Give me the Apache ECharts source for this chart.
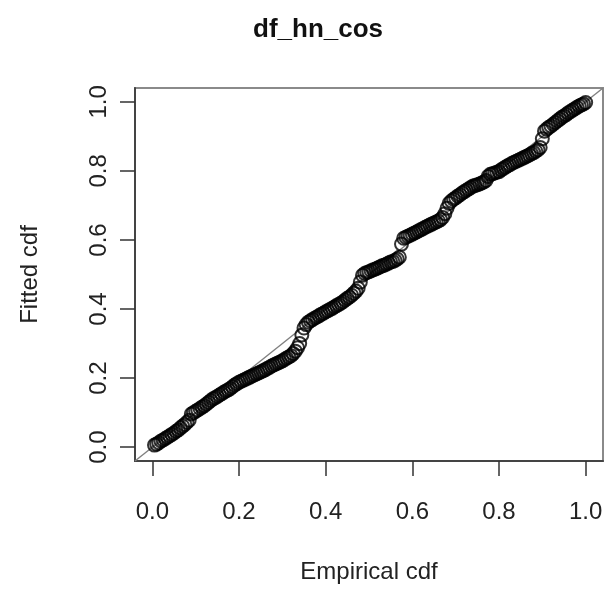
<!DOCTYPE html>
<html>
<head>
<meta charset="utf-8">
<script src="https://cdn.jsdelivr.net/npm/echarts@6/dist/echarts.min.js"></script>
<style>html,body{margin:0;padding:0;background:#fff}#c{width:609px;height:595px}</style>
</head>
<body>
<div id="c"></div>
<script>
var titleText = 'df_hn_cos';
var xName = 'Empirical cdf';
var yName = 'Fitted cdf';
var xTicks = [0, 0.2, 0.4, 0.6, 0.8, 1.0];
var yTicks = [0, 0.2, 0.4, 0.6, 0.8, 1.0];
var empiricalCdf = [
0.005,0.010,0.015,0.020,0.025,0.030,0.035,0.040,0.045,0.050,
0.055,0.060,0.065,0.070,0.075,0.080,0.085,0.090,0.095,0.100,
0.105,0.110,0.115,0.120,0.125,0.130,0.135,0.140,0.145,0.150,
0.155,0.160,0.165,0.170,0.175,0.180,0.185,0.190,0.195,0.200,
0.205,0.210,0.215,0.220,0.225,0.230,0.235,0.240,0.245,0.250,
0.255,0.260,0.265,0.270,0.275,0.280,0.285,0.290,0.295,0.300,
0.305,0.310,0.315,0.320,0.325,0.330,0.335,0.340,0.345,0.350,
0.355,0.360,0.365,0.370,0.375,0.380,0.385,0.390,0.395,0.400,
0.405,0.410,0.415,0.420,0.425,0.430,0.435,0.440,0.445,0.450,
0.455,0.460,0.465,0.470,0.475,0.480,0.485,0.490,0.495,0.500,
0.505,0.510,0.515,0.520,0.525,0.530,0.535,0.540,0.545,0.550,
0.555,0.560,0.565,0.570,0.575,0.580,0.585,0.590,0.595,0.600,
0.605,0.610,0.615,0.620,0.625,0.630,0.635,0.640,0.645,0.650,
0.655,0.660,0.665,0.670,0.675,0.680,0.685,0.690,0.695,0.700,
0.705,0.710,0.715,0.720,0.725,0.730,0.735,0.740,0.745,0.750,
0.755,0.760,0.765,0.770,0.775,0.780,0.785,0.790,0.795,0.800,
0.805,0.810,0.815,0.820,0.825,0.830,0.835,0.840,0.845,0.850,
0.855,0.860,0.865,0.870,0.875,0.880,0.885,0.890,0.895,0.900,
0.905,0.910,0.915,0.920,0.925,0.930,0.935,0.940,0.945,0.950,
0.955,0.960,0.965,0.970,0.975,0.980,0.985,0.990,0.995,1.000
];
var fittedCdf = [
0.006,0.009,0.013,0.018,0.021,0.025,0.029,0.033,0.037,0.041,
0.046,0.050,0.056,0.061,0.066,0.072,0.078,0.096,0.100,0.104,
0.108,0.112,0.116,0.120,0.125,0.130,0.135,0.140,0.143,0.147,
0.151,0.155,0.159,0.163,0.166,0.170,0.175,0.180,0.184,0.188,
0.191,0.194,0.197,0.200,0.203,0.206,0.209,0.212,0.215,0.218,
0.221,0.224,0.228,0.231,0.235,0.238,0.241,0.244,0.247,0.250,
0.254,0.258,0.261,0.265,0.271,0.278,0.288,0.300,0.325,0.345,
0.355,0.362,0.366,0.370,0.374,0.377,0.381,0.385,0.388,0.392,
0.395,0.399,0.402,0.406,0.410,0.413,0.417,0.421,0.426,0.431,
0.435,0.440,0.446,0.452,0.460,0.478,0.498,0.503,0.506,0.508,
0.511,0.514,0.516,0.519,0.522,0.525,0.527,0.530,0.533,0.536,
0.538,0.541,0.545,0.550,0.588,0.605,0.608,0.611,0.614,0.617,
0.620,0.623,0.627,0.630,0.633,0.637,0.640,0.643,0.646,0.649,
0.652,0.655,0.659,0.665,0.676,0.692,0.706,0.713,0.718,0.722,
0.727,0.731,0.736,0.740,0.744,0.748,0.752,0.756,0.758,0.760,
0.762,0.765,0.768,0.772,0.784,0.790,0.792,0.794,0.796,0.798,
0.803,0.807,0.811,0.815,0.818,0.822,0.825,0.828,0.831,0.834,
0.837,0.840,0.843,0.846,0.850,0.853,0.857,0.861,0.868,0.893,
0.915,0.921,0.926,0.930,0.935,0.940,0.945,0.950,0.955,0.959,
0.963,0.968,0.972,0.976,0.980,0.984,0.988,0.991,0.994,0.998
];
var axisMin = -0.04, axisMax = 1.04;

var pts = empiricalCdf.map(function (x, i) { return [x, fittedCdf[i]]; });
var FONT = '"Liberation Sans", Arial, Helvetica, sans-serif';
var chart = echarts.init(document.getElementById('c'), null, {renderer: 'canvas'});
chart.setOption({
  animation: false,
  backgroundColor: '#fff',
  title: {
    text: titleText, left: 248, top: 12,
    textStyle: {fontFamily: FONT, fontSize: 26, fontWeight: 'bold', color: '#111'}
  },
  grid: {left: 135, right: 6, top: 88, bottom: 134, show: true, borderColor: '#8a8a8a', borderWidth: 2, backgroundColor: 'transparent'},
  xAxis: {
    type: 'value', min: axisMin, max: axisMax,
    name: xName, nameLocation: 'middle', nameGap: 99,
    nameTextStyle: {fontFamily: FONT, fontSize: 24, color: '#222'},
    axisLine: {show: true, onZero: false, lineStyle: {color: '#444', width: 2}},
    axisTick: {show: true, inside: false, length: 15, customValues: xTicks, lineStyle: {color: '#333', width: 1.5}},
    axisLabel: {show: true, customValues: xTicks, margin: 39, fontFamily: FONT, fontSize: 24, color: '#222',
      formatter: function (v) { return v.toFixed(1); }},
    splitLine: {show: false}
  },
  yAxis: {
    type: 'value', min: axisMin, max: axisMax,
    name: yName, nameLocation: 'middle', nameGap: 93,
    nameTextStyle: {fontFamily: FONT, fontSize: 24, color: '#222'},
    axisLine: {show: true, onZero: false, lineStyle: {color: '#444', width: 2}},
    axisTick: {show: true, inside: false, length: 15, customValues: yTicks, lineStyle: {color: '#333', width: 1.5}},
    axisLabel: {show: true, customValues: yTicks, rotate: 90, margin: 24, fontFamily: FONT, fontSize: 24, color: '#222',
      formatter: function (v) { return v.toFixed(1); }},
    splitLine: {show: false}
  },
  series: [
    {
      type: 'line', data: [[axisMin, axisMin], [axisMax, axisMax]],
      symbol: 'none', silent: true, z: 1,
      lineStyle: {color: '#808080', width: 1.4}
    },
    {
      type: 'scatter', data: pts, z: 2,
      symbol: 'circle', symbolSize: 13,
      itemStyle: {color: 'rgba(0,0,0,0)', borderColor: '#000', borderWidth: 2}
    }
  ]
});
</script>
</body>
</html>
